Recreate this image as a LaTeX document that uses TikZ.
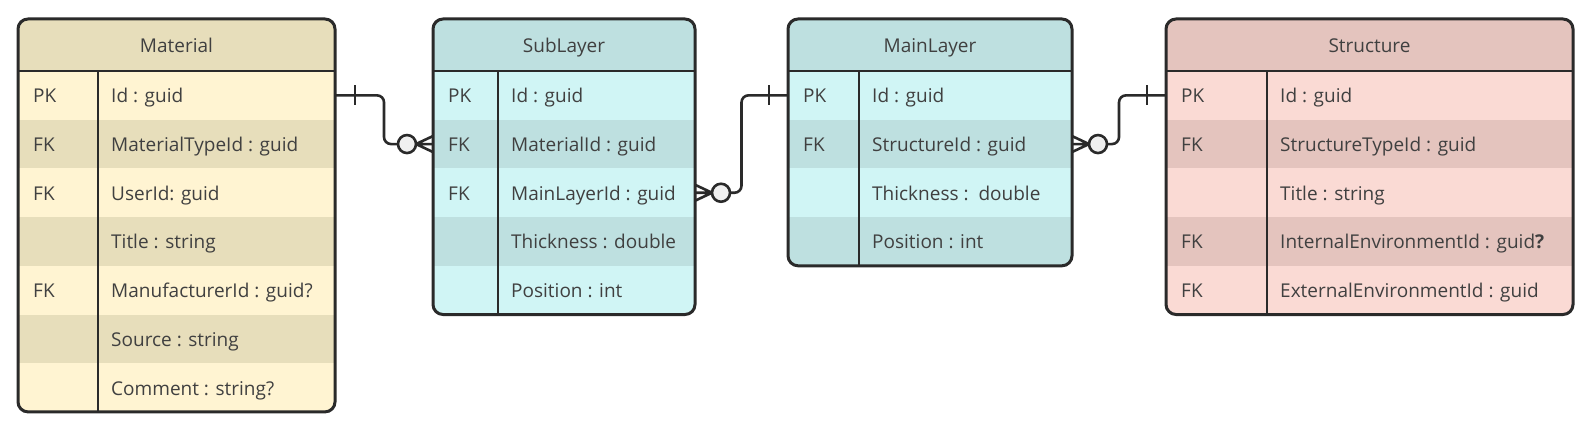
\documentclass[tikz,border=0pt]{standalone}
\usepackage{fontspec}
\setmainfont{Open Sans}
\usetikzlibrary{calc}
\definecolor{lineC}{HTML}{2A2A2A}
\definecolor{txtC}{HTML}{404040}
\definecolor{matL}{HTML}{FFF4D2}
\definecolor{matD}{HTML}{E7DEBB}
\definecolor{cyaL}{HTML}{D0F5F5}
\definecolor{cyaD}{HTML}{BEE0E0}
\definecolor{redL}{HTML}{FADAD4}
\definecolor{redD}{HTML}{E4C4BE}
\definecolor{circC}{HTML}{F0F0F0}
\tikzset{
  frame/.style={draw=lineC, line width=3pt, rounded corners=10pt},
  sep/.style={draw=lineC, line width=2.6pt},
  cell/.style={anchor=base west, text=txtC, inner sep=0pt, font=\fontsize{19}{22}\selectfont},
  ttl/.style={anchor=base, text=txtC, inner sep=0pt, font=\fontsize{19}{22}\selectfont},
  rel/.style={draw=lineC, line width=2.6pt, rounded corners=7pt},
  crow/.style={draw=lineC, line width=2.6pt},
  ring/.style={draw=lineC, line width=2.6pt, fill=circC, circle, minimum size=18pt, inner sep=0pt},
}
\newcommand\rowh{48.7}
% #1 id, #2 left, #3 right, #4 divider, #5 nrows, #6 light, #7 dark, #8 title, #9 rows
\newcommand\ertable[9]{%
  \pgfmathsetmacro\erbot{71+#5*\rowh}
  \begin{scope}
    \clip[rounded corners=10pt] (#2,19) rectangle (#3,\erbot);
    \fill[#7] (#2,19) rectangle (#3,71);
    \fill[#6] (#2,71) rectangle (#3,\erbot);
    \foreach \i in {1,...,#5}{%
      \ifodd\i\else
        \fill[#7] (#2,{71+(\i-1)*\rowh}) rectangle (#3,{71+\i*\rowh});
      \fi}
  \end{scope}
  \draw[sep] (#2,71) -- (#3,71);
  \draw[sep] (#4,71) -- (#4,\erbot);
  \draw[frame] (#2,19) rectangle (#3,\erbot);
  \node[ttl] (#1-t) at ({(#2+#3)/2},52.5) {#8};
  \foreach \k/\v [count=\i] in {#9}{%
    \node[cell] (#1-k\i) at ({#2+15},{71+(\i-0.5)*\rowh+7.5}) {\k};
    \node[cell] (#1-v\i) at ({#4+13},{71+(\i-0.5)*\rowh+7.5}) {\v};
    \coordinate (#1-L\i) at (#2,{71+(\i-0.5)*\rowh});
    \coordinate (#1-R\i) at (#3,{71+(\i-0.5)*\rowh});
  }%
}
\begin{document}
\begin{tikzpicture}[x=1pt,y=-1pt]
\useasboundingbox (0,0) rectangle (1594,433);
\ertable{mat}{18}{335}{98}{7}{matL}{matD}{Material}{PK/Id : guid, FK/MaterialTypeId : guid, FK/UserId: guid, {}/Title : string, FK/ManufacturerId : guid?, {}/Source : string, {}/Comment : string?}
\ertable{sub}{433}{695}{498}{5}{cyaL}{cyaD}{SubLayer}{PK/Id : guid, FK/MaterialId : guid, FK/MainLayerId : guid, {}/Thickness : double, {}/Position : int}
\ertable{main}{788}{1072}{859}{4}{cyaL}{cyaD}{MainLayer}{PK/Id : guid, FK/StructureId : guid, {}/Thickness :\ \ double, {}/Position : int}
\ertable{str}{1166}{1573}{1267}{5}{redL}{redD}{Structure}{PK/Id : guid, FK/StructureTypeId : guid, {}/Title : string, FK/InternalEnvironmentId : guid\textbf{?}, FK/ExternalEnvironmentId : guid}

% Material 1 -- many SubLayer
\draw[rel] (mat-R1) -| ($(mat-R1)!.5!(sub-L2)$) |- ($(sub-L2)+(-35,0)$);
\draw[crow] ($(mat-R1)+(20,-10)$) -- ($(mat-R1)+(20,10)$);
\node[ring] (c1) at ($(sub-L2)+(-26,0)$) {};
\draw[crow] ($(sub-L2)+(-17,0)$) -- ($(sub-L2)+(0,-8)$)
            ($(sub-L2)+(-17,0)$) -- (sub-L2)
            ($(sub-L2)+(-17,0)$) -- ($(sub-L2)+(0,8)$);

% SubLayer many -- MainLayer 1
\draw[rel] ($(sub-R3)+(35,0)$) -| ($(sub-R3)!.5!(main-L1)$) |- (main-L1);
\draw[crow] ($(main-L1)+(-19,-10)$) -- ($(main-L1)+(-19,10)$);
\node[ring] (c2) at ($(sub-R3)+(26,0)$) {};
\draw[crow] ($(sub-R3)+(17,0)$) -- ($(sub-R3)+(0,-8)$)
            ($(sub-R3)+(17,0)$) -- (sub-R3)
            ($(sub-R3)+(17,0)$) -- ($(sub-R3)+(0,8)$);

% MainLayer many -- Structure 1
\draw[rel] ($(main-R2)+(35,0)$) -| ($(main-R2)!.5!(str-L1)$) |- (str-L1);
\draw[crow] ($(str-L1)+(-19,-10)$) -- ($(str-L1)+(-19,10)$);
\node[ring] (c3) at ($(main-R2)+(26,0)$) {};
\draw[crow] ($(main-R2)+(17,0)$) -- ($(main-R2)+(0,-8)$)
            ($(main-R2)+(17,0)$) -- (main-R2)
            ($(main-R2)+(17,0)$) -- ($(main-R2)+(0,8)$);
\end{tikzpicture}
\end{document}
